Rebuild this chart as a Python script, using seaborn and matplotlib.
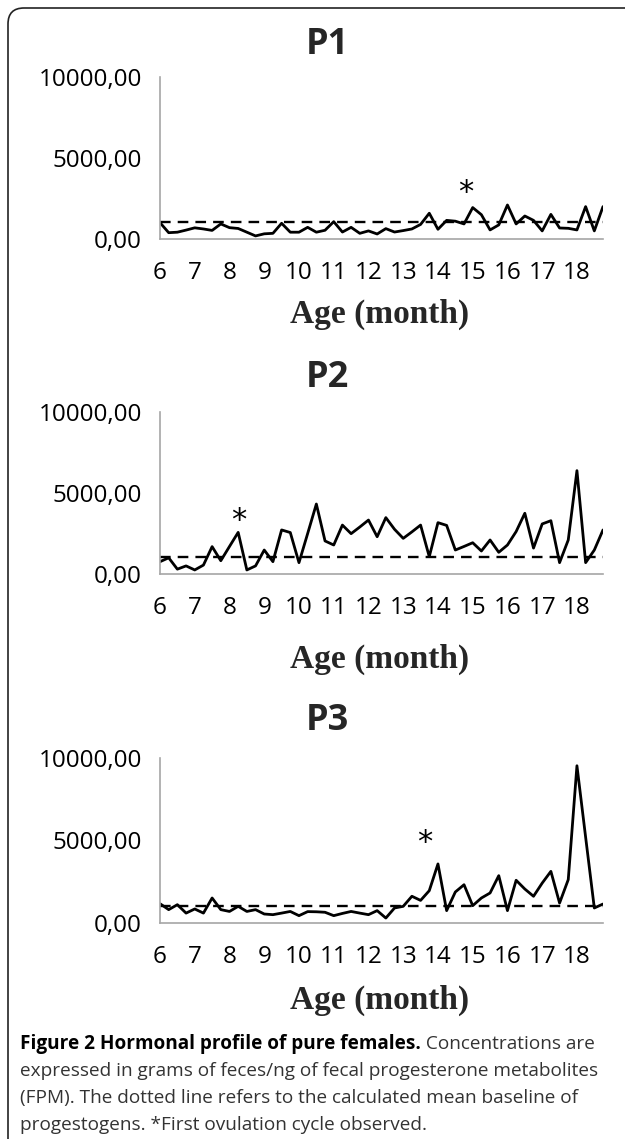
import numpy as np
import pandas as pd
import matplotlib
matplotlib.use('Agg')
import matplotlib.pyplot as plt
import seaborn as sns
from matplotlib.patches import FancyBboxPatch

# weekly samples, age in months
ages = np.arange(52) * 0.25 + 6

p1_fpm = [1010, 390, 420, 550, 690, 620, 530, 930, 700, 650,
          420, 190, 320, 350, 970, 420, 420, 720, 420, 540,
          1070, 430, 720, 350, 500, 310, 640, 430, 520, 620,
          900, 1590, 600, 1150, 1100, 930, 1940, 1500, 560, 870,
          2100, 930, 1420, 1150, 500, 1520, 680, 660, 560, 2000,
          500, 2000]
p2_fpm = [760, 1000, 300, 500, 250, 550, 1690, 820, 1700, 2570,
          250, 500, 1480, 760, 2720, 2560, 700, 2500, 4320, 2040,
          1790, 3020, 2490, 2900, 3330, 2300, 3480, 2760, 2200, 2600,
          3020, 1070, 3170, 3000, 1480, 1700, 1930, 1420, 2100, 1340,
          1790, 2620, 3750, 1600, 3090, 3290, 700, 2100, 6380, 700,
          1480, 2720]
p3_fpm = [1170, 810, 1110, 600, 850, 600, 1515, 810, 700, 1010,
          700, 810, 545, 505, 600, 700, 445, 690, 680, 650,
          445, 580, 700, 600, 505, 750, 300, 910, 1010, 1620,
          1370, 1960, 3580, 750, 1880, 2320, 1050, 1515, 1820, 2870,
          750, 2590, 2060, 1620, 2420, 3130, 1210, 2630, 9530, 5200,
          910, 1150]

baselines = [1050, 1030, 1030]
# first ovulation (age, value) of the asterisk
first_ovulation = [(14.8, 2840), (8.26, 3330), (13.62, 4850)]
panel_names = ['P1', 'P2', 'P3']

month_ticks = list(range(6, 19))
month_labels = [str(m) for m in month_ticks]
y_ticks = [0, 5000, 10000]
y_labels = ['0,00', '5000,00', '10000,00']

caption_bold = 'Figure 2 Hormonal profile of pure females.'
caption_lines = [' Concentrations are',
                 'expressed in grams of feces/ng of fecal progesterone metabolites',
                 '(FPM). The dotted line refers to the calculated mean baseline of',
                 'progestogens. *First ovulation cycle observed.']

sns.set_style('white')
plt.rcParams['font.family'] = ['Open Sans', 'DejaVu Sans']

W, H = 625, 1139
fig = plt.figure(figsize=(W / 100, H / 100), dpi=100)


def fx(px):
    return px / W


def fy(py):
    return 1 - py / H


# pixel layout: (axes top, axes bottom, title y, xlabel y)
layout = [(77, 239, 45, 314),
          (412, 574, 378, 659),
          (758, 923, 721, 1000)]

series = [p1_fpm, p2_fpm, p3_fpm]

for k in range(3):
    top, bottom, ty, ly = layout[k]
    ax = fig.add_axes([fx(160), fy(bottom), fx(603) - fx(160), (bottom - top) / H])
    df = pd.DataFrame({'age': ages, 'fpm': series[k]})
    sns.lineplot(data=df, x='age', y='fpm', ax=ax, color='black', lw=2.0)
    ax.axhline(baselines[k], color='black', lw=1.7, ls=(0, (4.5, 3)))
    ax.set_xlim(6, 18.75)
    ax.set_ylim(0, 10000)
    ax.set_xticks(month_ticks)
    ax.set_xticklabels(month_labels)
    ax.set_yticks(y_ticks)
    ax.set_yticklabels(y_labels)
    ax.tick_params(axis='both', length=0, labelsize=17.5, colors='black')
    ax.tick_params(axis='x', pad=16)
    ax.tick_params(axis='y', pad=13)
    ax.set_xlabel('')
    ax.set_ylabel('')
    for s in ['top', 'right']:
        ax.spines[s].set_visible(False)
    for s in ['left', 'bottom']:
        ax.spines[s].set_color('#a6a6a6')
        ax.spines[s].set_linewidth(1.2)
    ax.text(first_ovulation[k][0], first_ovulation[k][1], '*',
            ha='center', va='center', fontsize=22, family='DejaVu Sans',
            color='black')

    fig.text(fx(327), fy(ty), panel_names[k], ha='center', va='center',
             fontsize=26, fontweight='bold')
    fig.text(fx(380), fy(ly), 'Age (month)', ha='center', va='center',
             fontsize=24, fontweight='bold', family='Liberation Serif')

# caption
cap_y = [1044, 1071, 1098, 1125]
cap_size = 13.7
renderer = fig.canvas.get_renderer()
t = fig.text(fx(20), fy(cap_y[0]), caption_bold, ha='left', va='center',
             fontsize=cap_size, fontweight='bold', color='black')
bb = t.get_window_extent(renderer=renderer)
fig.text(bb.x1 / W, fy(cap_y[0]), caption_lines[0], ha='left', va='center',
         fontsize=cap_size, color='#333333')
for line, y in zip(caption_lines[1:], cap_y[1:]):
    fig.text(fx(20), fy(y), line, ha='left', va='center',
             fontsize=cap_size, color='#333333')

# rounded frame around the figure
frame = FancyBboxPatch((0.08, -0.3), 6.6, 11.31 + 0.3,
                       boxstyle='round,pad=0,rounding_size=0.16',
                       transform=fig.dpi_scale_trans, fill=False,
                       edgecolor='#222222', lw=1.2)
fig.patches.append(frame)

fig.savefig('out.png', dpi=100)
